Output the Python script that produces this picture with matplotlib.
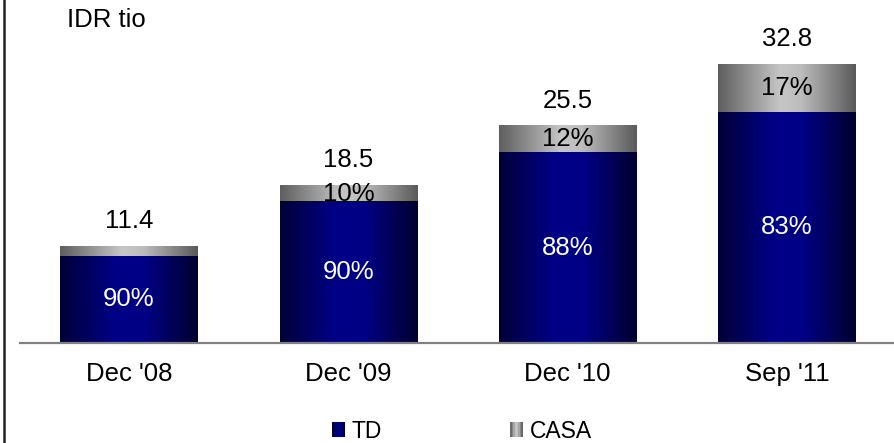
import numpy as np
import matplotlib
matplotlib.use("Agg")
import matplotlib.pyplot as plt
import matplotlib.colors as mcolors
from matplotlib.patches import Patch, Rectangle
from matplotlib.lines import Line2D
from matplotlib.legend_handler import HandlerBase

plt.rcParams['font.family'] = ['Liberation Sans', 'DejaVu Sans']

# data
periods = ["Dec '08", "Dec '09", "Dec '10", "Sep '11"]
totals = [11.4, 18.5, 25.5, 32.8]
td_pct = [90, 90, 88, 83]
casa_pct = [10, 10, 12, 17]
show_casa_label = [False, True, True, True]

blue_cmap = mcolors.LinearSegmentedColormap.from_list(
    'td', [(0, '#000038'), (0.4, '#000088'), (0.62, '#000084'), (1, '#00002e')])
grey_cmap = mcolors.LinearSegmentedColormap.from_list(
    'casa', [(0, '#5e5e5e'), (0.45, '#c6c6c6'), (0.6, '#bdbdbd'), (1, '#5a5a5a')])
grad = np.linspace(0, 1, 256).reshape(1, -1)


class GradHandler(HandlerBase):
    # legend key drawn as vertical stripes of a colormap
    def __init__(self, cmap, n=8):
        super().__init__()
        self.cmap = cmap
        self.n = n

    def create_artists(self, legend, orig_handle, xdescent, ydescent,
                       width, height, fontsize, trans):
        arts = []
        sw = width / self.n
        for k in range(self.n):
            c = self.cmap((k + 0.5) / self.n)
            arts.append(Rectangle((-xdescent + k * sw, -ydescent), sw * 1.02, height,
                                  facecolor=c, edgecolor='none', transform=trans))
        return arts


fig = plt.figure(figsize=(8.94, 4.43), dpi=100)
ax = fig.add_axes([20 / 894, 1 - 343 / 443, 874 / 894, 343 / 443])

w = 0.625
for i, (tot, tp, cp) in enumerate(zip(totals, td_pct, casa_pct)):
    td = tot * tp / 100
    ax.imshow(grad, cmap=blue_cmap, aspect='auto',
              extent=[i - w / 2, i + w / 2, 0, td], zorder=2)
    ax.imshow(grad, cmap=grey_cmap, aspect='auto',
              extent=[i - w / 2, i + w / 2, td, tot], zorder=2)
    ax.text(i, td / 2, f'{tp}%', color='white', ha='center', va='center',
            fontsize=18.5, zorder=3)
    if show_casa_label[i]:
        ax.text(i, (td + tot) / 2, f'{cp}%', color='black', ha='center',
                va='center', fontsize=18.5, zorder=3)
    ax.text(i, tot + 3.0, f'{tot}', ha='center', va='center', fontsize=18.5)

ax.set_xlim(-0.497, 3.488)
ax.set_ylim(0, 343 / 8.5)
ax.axhline(0, color='#808080', lw=1.6, zorder=4, clip_on=False)
for s in ax.spines.values():
    s.set_visible(False)
ax.set_yticks([])
ax.set_xticks(range(len(periods)))
ax.set_xticklabels(periods, fontsize=18.5)
ax.tick_params(axis='x', length=0, pad=14)

fig.text(67 / 894, 1 - 20 / 443, 'IDR tio', fontsize=18.5, ha='left', va='center')

fig.add_artist(Line2D([3.5 / 894, 3.5 / 894], [0, 1], color='#222222', lw=1.8))

h_td = Patch(label='TD')
h_casa = Patch(label='CASA')
fig.legend(handles=[h_td, h_casa], loc='center', bbox_to_anchor=(462 / 894, 1 - 431 / 443),
           ncol=2, frameon=False, fontsize=16.5, handlelength=0.55, handleheight=0.65,
           handletextpad=0.3, columnspacing=5.6,
           handler_map={h_td: GradHandler(blue_cmap), h_casa: GradHandler(grey_cmap)})

fig.savefig('out.png', dpi=100)
